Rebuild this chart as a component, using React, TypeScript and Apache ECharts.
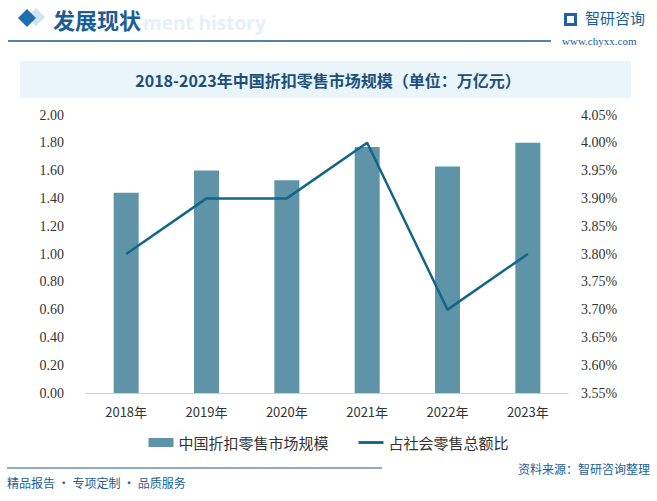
import React, { useEffect, useRef } from "react";
import * as echarts from "echarts";

const categories = ["2018年", "2019年", "2020年", "2021年", "2022年", "2023年"];
const marketSize = [1.44, 1.6, 1.53, 1.77, 1.63, 1.8];
const shareOfRetail = [3.8, 3.9, 3.9, 4.0, 3.7, 3.8];
const barName = "中国折扣零售市场规模";
const lineName = "占社会零售总额比";
const titleText = "2018-2023年中国折扣零售市场规模（单位：万亿元）";

export default function App() {
  const ref = useRef<HTMLDivElement>(null);
  useEffect(() => {
    if (!ref.current) return;
    const chart = echarts.init(ref.current, null, { renderer: "svg" });
    chart.setOption({
      animation: false,
      backgroundColor: "#ffffff",
      graphic: [
        // header
        {
          type: "polygon",
          shape: { points: [[36, 8], [45, 17], [36, 26], [27, 17]] },
          style: { fill: "rgba(31,111,174,0.2)" },
          z: 0,
        },
        {
          type: "polygon",
          shape: { points: [[27, 9], [36, 18], [27, 27], [18, 18]] },
          style: { fill: "#1f6fae" },
          z: 1,
        },
        {
          type: "text",
          x: 143,
          y: 13,
          style: { text: "ment history", fill: "#e4f0f9", font: "bold 19px 'Open Sans'" },
          z: 0,
        },
        {
          type: "text",
          x: 53,
          y: 8,
          style: { text: "发展现状", fill: "#1a5e95", font: "bold 22px 'Noto Sans CJK SC'" },
          z: 1,
        },
        {
          type: "line",
          shape: { x1: 8, y1: 41, x2: 551, y2: 41 },
          style: { stroke: "#1c5a8a", lineWidth: 1.5 },
        },
        {
          type: "rect",
          shape: { x: 564, y: 13, width: 13, height: 13 },
          style: { fill: "#1f5ea8" },
        },
        {
          type: "rect",
          shape: { x: 567, y: 16, width: 7, height: 7 },
          style: { fill: "#ffffff" },
        },
        {
          type: "text",
          x: 585,
          y: 10,
          style: { text: "智研咨询", fill: "#1a5e95", font: "15px 'Noto Sans CJK SC'" },
        },
        {
          type: "text",
          x: 562,
          y: 35,
          style: { text: "www.chyxx.com", fill: "#1a5e95", font: "11px 'Liberation Serif'" },
        },
        // title box
        {
          type: "rect",
          shape: { x: 20, y: 61, width: 611, height: 37 },
          style: { fill: "#e9f4fb" },
          z: 0,
        },
        {
          type: "text",
          x: 328,
          y: 80,
          style: {
            text: titleText,
            fill: "#1b4f7a",
            font: "bold 16px 'Noto Sans CJK SC'",
            textAlign: "center",
            textVerticalAlign: "middle",
          },
          z: 1,
        },
        // footer
        {
          type: "line",
          shape: { x1: 7, y1: 468, x2: 382, y2: 468 },
          style: { stroke: "#1c5a8a", lineWidth: 1.2 },
        },
        {
          type: "text",
          x: 7,
          y: 476,
          style: { text: "精品报告 · 专项定制 · 品质服务", fill: "#1a5e95", font: "12px 'Noto Sans CJK SC'" },
        },
        {
          type: "text",
          x: 650,
          y: 462,
          style: {
            text: "资料来源：智研咨询整理",
            fill: "#1a5e95",
            font: "12px 'Noto Sans CJK SC'",
            textAlign: "right",
          },
        },
      ],
      grid: { left: 86, right: 89, top: 115, bottom: 108, containLabel: false },
      legend: {
        top: 430,
        left: "center",
        itemGap: 30,
        itemWidth: 25,
        itemHeight: 9,
        textStyle: { fontSize: 15, color: "#333", fontFamily: "'Noto Sans CJK SC'" },
        data: [
          { name: barName, icon: "rect" },
          { name: lineName, icon: "path://M0 0 H26 V3 H0 Z" },
        ],
      },
      xAxis: {
        type: "category",
        data: categories,
        axisLine: { lineStyle: { color: "#d0d0d0" } },
        axisTick: { show: false },
        axisLabel: { color: "#333", fontSize: 13, margin: 12, fontFamily: "'Noto Sans CJK SC'" },
      },
      yAxis: [
        {
          type: "value",
          min: 0,
          max: 2,
          interval: 0.2,
          splitLine: { show: false },
          axisLine: { show: false },
          axisTick: { show: false },
          axisLabel: {
            color: "#333",
            fontSize: 14,
            margin: 22,
            fontFamily: "'Liberation Serif'",
            formatter: (v: number) => v.toFixed(2),
          },
        },
        {
          type: "value",
          min: 3.55,
          max: 4.05,
          interval: 0.05,
          splitLine: { show: false },
          axisLine: { show: false },
          axisTick: { show: false },
          axisLabel: {
            color: "#333",
            fontSize: 14,
            margin: 13,
            fontFamily: "'Liberation Serif'",
            formatter: (v: number) => v.toFixed(2) + "%",
          },
        },
      ],
      series: [
        {
          name: barName,
          type: "bar",
          data: marketSize,
          barWidth: 25,
          itemStyle: { color: "#5f93a8" },
        },
        {
          name: lineName,
          type: "line",
          yAxisIndex: 1,
          data: shareOfRetail,
          symbol: "none",
          lineStyle: { color: "#136589", width: 2.5 },
          itemStyle: { color: "#136589" },
        },
      ],
    });
    return () => chart.dispose();
  }, []);
  return (
    <div
      ref={ref}
      style={{ position: "fixed", left: 0, top: 0, width: 657, height: 501 }}
    />
  );
}
